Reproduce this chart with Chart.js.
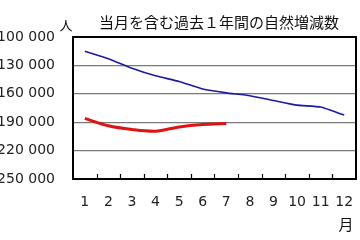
<!DOCTYPE html>
<html>
<head>
<meta charset="utf-8">
<script src="https://cdn.jsdelivr.net/npm/chart.js@4"></script>
<style>
  html, body { margin: 0; padding: 0; background: #fff; overflow: hidden; }
  #wrap { width: 360px; height: 240px; overflow: hidden; position: relative; }
  /* canvas is a bit wider and pushed left, so the minus of the tick labels is cut off like in the picture */
  #natChart { position: absolute; left: -12px; top: 0; }
</style>
</head>
<body>
<div id="wrap"><canvas id="natChart" width="372" height="240"></canvas></div>
<script>
const months = ["1", "2", "3", "4", "5", "6", "7", "8", "9", "10", "11", "12"];
const lastYear = [-115000, -123000, -133000, -141000, -147000, -155000, -159000, -162000, -167000, -172000, -174000, -182500];
const thisYear = [-186000, -193800, -197700, -199500, -195000, -192400, -191300];
const yTicks = [-250000, -220000, -190000, -160000, -130000, -100000];
const yTickLabels = ["-250 000", "-220 000", "-190 000", "-160 000", "-130 000", "-100 000"];

const chartTitle = "当月を含む過去１年間の自然増減数";

const extras = {
  id: "extras",
  afterDraw(chart) {
    const ctx = chart.ctx;
    const a = chart.chartArea;
    const xs = chart.scales.x;
    ctx.save();
    // frame round the plot
    ctx.strokeStyle = "#000";
    ctx.lineWidth = 2;
    ctx.strokeRect(a.left, a.top, a.right - a.left, a.bottom - a.top);
    // small ticks between the months, pointing up into the plot
    const half = (xs.getPixelForValue(1) - xs.getPixelForValue(0)) / 2;
    ctx.lineWidth = 1.2;
    ctx.beginPath();
    for (let i = 0; i < months.length - 1; i++) {
      const x = Math.round(xs.getPixelForValue(i) + half) + 0.5;
      ctx.moveTo(x, a.bottom);
      ctx.lineTo(x, a.bottom - 5);
    }
    ctx.stroke();
    ctx.fillStyle = "#111";
    ctx.textBaseline = "middle";
    ctx.textAlign = "center";
    ctx.font = "15px 'Noto Sans CJK JP'";
    ctx.fillText(chartTitle, 231, 22);
    ctx.font = "13px 'Noto Sans CJK JP'";
    ctx.fillText("人", 78, 25);
    ctx.font = "15px 'Noto Sans CJK JP'";
    ctx.fillText("月", 358, 224);
    ctx.restore();
  },
};

const ctx = document.getElementById("natChart");
new Chart(ctx, {
  type: "line",
  data: {
    labels: months,
    datasets: [
      {
        label: "過去",
        data: lastYear,
        borderColor: "#1a1aa6",
        borderWidth: 1.6,
        pointRadius: 0,
        tension: 0.15,
        fill: false,
      },
      {
        label: "今年",
        data: thisYear,
        borderColor: "#e01212",
        borderWidth: 3,
        pointRadius: 0,
        tension: 0.3,
        fill: false,
      },
    ],
  },
  options: {
    responsive: false,
    devicePixelRatio: 1,
    animation: false,
    layout: { padding: { top: 37, right: 4, bottom: 0, left: 0 } },
    plugins: {
      legend: { display: false },
      title: { display: false },
      tooltip: { enabled: false },
    },
    scales: {
      x: {
        offset: true,
        afterFit(scale) {
          scale.height = 61;
          scale.paddingLeft = 0;
          scale.paddingRight = 0;
        },
        grid: { offset: true, drawOnChartArea: false, drawTicks: false },
        border: { display: true, color: "#000", width: 2 },
        ticks: {
          padding: 15,
          color: "#222",
          font: { family: "DejaVu Sans", size: 14 },
          maxRotation: 0,
        },
      },
      y: {
        min: -250000,
        max: -100000,
        afterBuildTicks(scale) {
          scale.ticks = yTicks.map((v) => ({ value: v }));
        },
        afterFit(scale) {
          scale.width = 85;
        },
        grid: {
          drawTicks: false,
          color: "#7a7a7a",
          lineWidth: 1.2,
        },
        border: { display: true, color: "#000", width: 2 },
        ticks: {
          padding: 18,
          color: "#222",
          font: { family: "DejaVu Sans", size: 14 },
          callback: (v) => yTickLabels[yTicks.indexOf(v)],
        },
      },
    },
  },
  plugins: [extras],
});
</script>
</body>
</html>
